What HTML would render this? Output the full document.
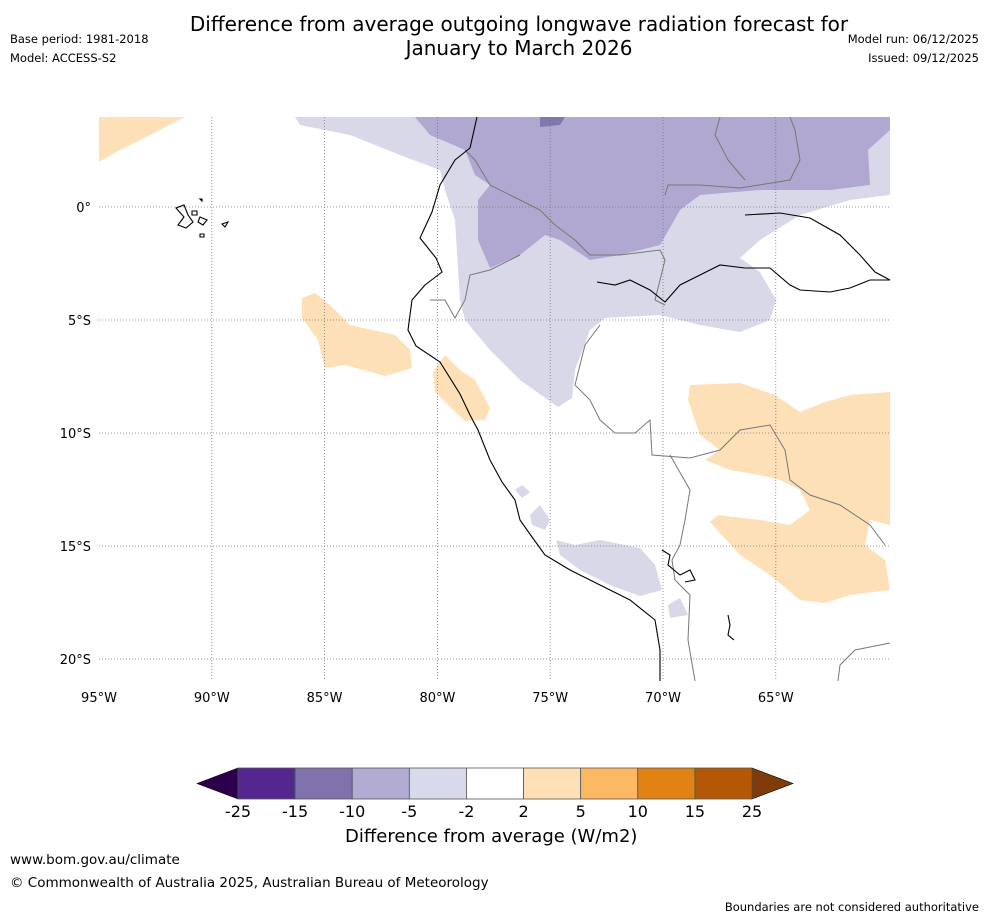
<!DOCTYPE html>
<html><head><meta charset="utf-8">
<style>
body{margin:0;background:#fff;font-family:"DejaVu Sans","Liberation Sans",sans-serif;}
#wrap{position:relative;width:988px;height:919px;overflow:hidden;background:#fff}
.t{position:absolute;color:#000;white-space:nowrap}
svg text{font-family:"DejaVu Sans","Liberation Sans",sans-serif}
</style></head>
<body>
<div id="wrap">
<div class="t" style="left:0;width:1038px;top:12px;text-align:center;font-size:20px;line-height:24px">Difference from average outgoing longwave radiation forecast for<br>January to March 2026</div>
<div class="t" style="left:10px;top:32px;font-size:11.5px">Base period: 1981-2018</div>
<div class="t" style="left:10px;top:51px;font-size:11.5px">Model: ACCESS-S2</div>
<div class="t" style="right:9px;top:32px;font-size:11.5px">Model run: 06/12/2025</div>
<div class="t" style="right:9px;top:51px;font-size:11.5px">Issued: 09/12/2025</div>

<svg id="map" width="988" height="919" style="position:absolute;left:0;top:0">
<g>
<path fill="#d8d8e9" d="M295,117 L300,125 350,135 400,155 440,170 445,190 455,220 460,300 465,320 490,350 520,380 558,407 572,398 575,370 590,330 605,318 660,315 700,325 740,332 770,320 776,300 760,272 740,258 760,240 800,215 850,200 890,195 890,117Z"/>
<path fill="#b0a8d0" d="M415,117 L430,135 465,150 475,175 490,185 478,200 478,240 490,268 520,255 545,235 560,240 590,260 620,255 660,245 680,210 700,195 760,190 830,190 870,185 868,150 890,130 890,117Z"/>
<path fill="#8078b0" d="M540,117 L565,117 560,125 540,127Z"/>
<path fill="#d8d8e9" d="M515,490 L522,485 530,492 522,498Z"/>
<path fill="#d8d8e9" d="M530,515 L540,505 550,520 545,530 532,525Z"/>
<path fill="#d8d8e9" d="M556,540 L575,545 600,540 640,548 655,565 662,590 640,596 610,585 580,570 560,555Z"/>
<path fill="#d8d8e9" d="M668,605 L680,598 688,615 670,618Z"/>
<path fill="#fde0b8" d="M99,117 L185,117 150,135 120,150 99,162Z"/>
<path fill="#fde0b8" d="M302,298 L315,293 330,305 350,325 395,335 410,350 412,368 385,376 345,365 325,368 318,340 302,318Z"/>
<path fill="#fde0b8" d="M433,372 L445,355 460,370 475,380 490,408 485,420 465,421 435,392Z"/>
<path fill="#fde0b8" d="M690,385 L740,383 775,395 800,412 825,402 850,395 890,392 890,525 870,520 865,545 885,560 890,590 850,595 825,603 800,600 770,575 740,555 710,522 718,515 760,520 790,525 810,510 800,490 780,480 760,475 730,470 705,460 720,450 700,435 688,400Z"/>
</g>
<g id="grid" stroke="#777" stroke-width="0.8" stroke-dasharray="1,2"></g>
<g fill="none" stroke="#777" stroke-width="1">
<path d="M465,150 L475,160 490,185 510,195 540,210 555,225 575,240 590,255 620,255 660,250 665,260 655,300 665,305"/>
<path d="M665,195 L668,185 700,185 740,188 790,180 800,160 795,130 790,117"/>
<path d="M720,117 L715,135 728,160 745,180"/>
<path d="M430,300 L445,300 455,318 465,300 470,275 490,270 520,255"/>
<path d="M600,325 L585,345 575,385 590,400 600,420 615,433 635,433 650,420 652,455 690,458 720,450 740,430 770,425 785,450 790,480 810,495 840,505 870,525 885,545"/>
<path d="M670,455 L690,490 685,520 680,545 672,560 675,580 690,595"/>
<path d="M690,595 L688,640 695,681"/>
<path d="M838,681 L840,665 855,650 890,643"/>
</g>
<g fill="none" stroke="#000" stroke-width="1.1">
<path d="M477,117 L470,148 455,160 440,185 432,212 420,238 436,258 442,272 425,285 412,300 408,330 416,346 440,362 460,394 470,415 478,430 490,460 502,482 515,500 520,520 532,537 545,555 570,570 600,585 630,600 655,620 660,650 660,681"/>
<path d="M745,215 L780,213 810,218 840,235 860,255 875,272 890,280"/>
<path d="M597,282 L615,285 630,280 650,290 665,302 680,285 700,275 720,265 745,268 770,268 790,285 800,290 830,292 850,288 870,280 890,280"/>
<path d="M176,208 L184,205 188,215 193,222 186,228 178,225 184,217Z"/>
<path d="M200,217 L207,220 203,225 198,222Z M192,211 l5,0 0,4 -5,0Z M222,224 l6,-2 -3,5Z M200,234 l4,0 0,3 -4,0Z M200,199 l2,0 0,2Z"/>
<path d="M662,550 L670,555 668,565 680,575 690,570 695,580 685,582"/>
<path d="M728,615 L730,625 728,635 734,640"/>
</g>
</svg>

<svg id="cbar" width="988" height="919" style="position:absolute;left:0;top:0"></svg>
<div class="t" style="left:345px;top:826px;font-size:18px">Difference from average (W/m2)</div>
<div class="t" style="left:10px;top:852px;font-size:13.5px">www.bom.gov.au/climate</div>
<div class="t" style="left:10px;top:875px;font-size:13.5px">© Commonwealth of Australia 2025, Australian Bureau of Meteorology</div>
<div class="t" style="right:9px;top:900px;font-size:11.5px">Boundaries are not considered authoritative</div>
</div>
<script>
const lonTicks=[-95,-90,-85,-80,-75,-70,-65];
const latTicks=[0,-5,-10,-15,-20];
const levels=[-25,-15,-10,-5,-2,2,5,10,15,25];
const colors=["#54278f","#8073ac","#b2abd2","#d8daeb","#ffffff","#fee0b6","#fdb863","#e08214","#b35806"];
const extendColors=["#2d004b","#7f3b08"];
const NS="http://www.w3.org/2000/svg";
function xLon(l){return 99+(l+95)*22.56;}
function yLat(l){return 207-l*22.6;}
const grid=document.getElementById('grid');
const map=document.getElementById('map');
lonTicks.forEach(l=>{
  if(l>-95){const ln=document.createElementNS(NS,'line');
  
  
  ln.setAttribute('x1',xLon(l));ln.setAttribute('x2',xLon(l));ln.setAttribute('y1',117);ln.setAttribute('y2',681);grid.appendChild(ln);}
  const t=document.createElementNS(NS,'text');
  
  
  t.setAttribute('x',xLon(l));t.setAttribute('y',702);t.setAttribute('text-anchor','middle');t.setAttribute('font-size','13');
  t.textContent=Math.abs(l)+'°W';map.appendChild(t);
});
latTicks.forEach(l=>{
  const ln=document.createElementNS(NS,'line');
  
  
  ln.setAttribute('x1',99);ln.setAttribute('x2',890);ln.setAttribute('y1',yLat(l));ln.setAttribute('y2',yLat(l));grid.appendChild(ln);
  const t=document.createElementNS(NS,'text');
  
  
  t.setAttribute('x',91);t.setAttribute('y',yLat(l)+5);t.setAttribute('text-anchor','end');t.setAttribute('font-size','13');
  t.textContent=l===0?'0°':Math.abs(l)+'°S';map.appendChild(t);
});
const cb=document.getElementById('cbar');
const x0=238,x1=752,y0=768,y1=799;
const seg=(x1-x0)/colors.length;
function cx(i){return x0+i*seg;}
const lt=document.createElementNS(NS,'polygon');


lt.setAttribute('points',`${x0},${y0} ${x0-41},${(y0+y1)/2} ${x0},${y1}`);lt.setAttribute('fill',extendColors[0]);lt.setAttribute('stroke','#000');lt.setAttribute('stroke-width','0.6');cb.appendChild(lt);
const rt=document.createElementNS(NS,'polygon');


rt.setAttribute('points',`${x1},${y0} ${x1+41},${(y0+y1)/2} ${x1},${y1}`);rt.setAttribute('fill',extendColors[1]);rt.setAttribute('stroke','#000');rt.setAttribute('stroke-width','0.6');cb.appendChild(rt);
colors.forEach((c,i)=>{
  const r=document.createElementNS(NS,'rect');
  
  
  r.setAttribute('x',cx(i));r.setAttribute('y',y0);r.setAttribute('width',seg);r.setAttribute('height',y1-y0);r.setAttribute('fill',c);r.setAttribute('stroke','#555');r.setAttribute('stroke-width','0.8');cb.appendChild(r);
});
levels.forEach((v,i)=>{
  const t=document.createElementNS(NS,'text');
  
  
  t.setAttribute('x',cx(i));t.setAttribute('y',817);t.setAttribute('text-anchor','middle');t.setAttribute('font-size','16');
  t.textContent=v;cb.appendChild(t);
});
</script>
</body></html>
